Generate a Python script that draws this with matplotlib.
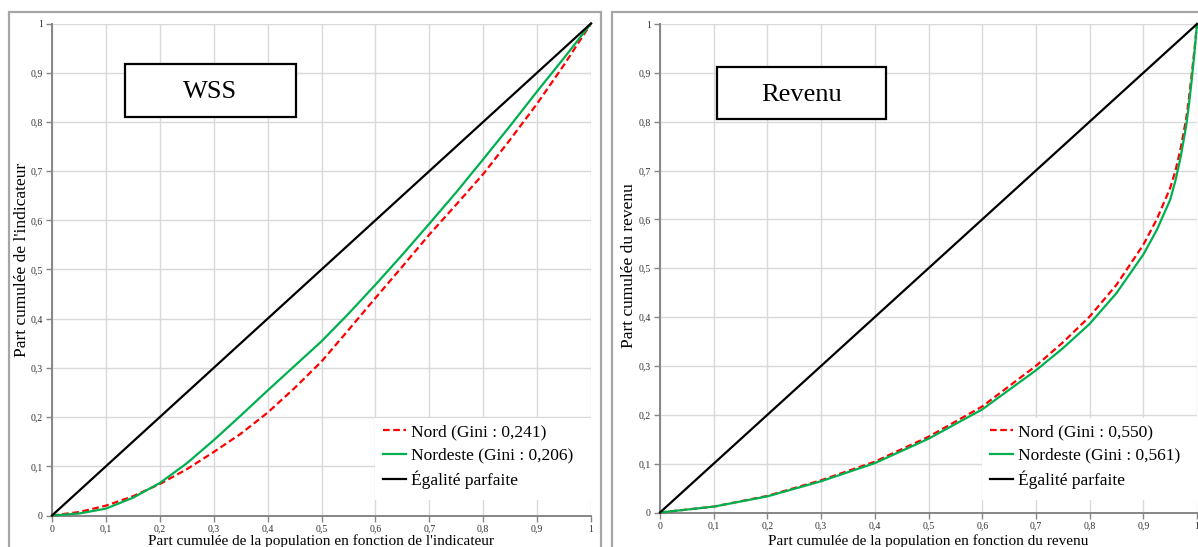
import matplotlib
matplotlib.use("Agg")
import matplotlib.pyplot as plt
from matplotlib.patches import Rectangle
from matplotlib.ticker import FuncFormatter, MultipleLocator

plt.rcParams['font.family'] = ['Liberation Serif', 'DejaVu Serif']

# ---------------- data ----------------
wss_x = [0, 0.05, 0.1, 0.15, 0.2, 0.25, 0.3, 0.35, 0.4, 0.45, 0.5, 0.55, 0.6, 0.65,
         0.7, 0.75, 0.8, 0.85, 0.9, 0.95, 1.0]
wss_nord = [0, 0.007, 0.020, 0.039, 0.064, 0.094, 0.129, 0.166, 0.209, 0.259, 0.313, 0.377,
            0.442, 0.506, 0.571, 0.632, 0.694, 0.764, 0.837, 0.916, 1.0]
wss_nordeste = [0, 0.004, 0.014, 0.036, 0.066, 0.106, 0.153, 0.203, 0.254, 0.304, 0.354, 0.410,
                0.469, 0.530, 0.593, 0.657, 0.724, 0.792, 0.862, 0.930, 1.0]

rev_x = [0, 0.1, 0.2, 0.3, 0.4, 0.5, 0.6, 0.7, 0.75, 0.8, 0.85, 0.9, 0.925, 0.95, 0.96,
         0.97, 0.98, 0.985, 0.99, 0.995, 1.0]
rev_nord = [0, 0.012, 0.034, 0.066, 0.104, 0.155, 0.217, 0.300, 0.348, 0.401, 0.466, 0.548,
            0.600, 0.664, 0.700, 0.748, 0.807, 0.848, 0.895, 0.945, 1.0]
rev_nordeste = [0, 0.012, 0.033, 0.064, 0.101, 0.151, 0.211, 0.291, 0.336, 0.386, 0.449, 0.528,
                0.578, 0.640, 0.680, 0.730, 0.793, 0.835, 0.884, 0.938, 1.0]

equal_x = [0, 1]
equal_y = [0, 1]

labels_wss = ["Nord (Gini : 0,241)", "Nordeste (Gini : 0,206)", "Égalité parfaite"]
labels_rev = ["Nord (Gini : 0,550)", "Nordeste (Gini : 0,561)", "Égalité parfaite"]

titles = ["WSS", "Revenu"]
ylabels = ["Part cumulée de l'indicateur", "Part cumulée du revenu"]
xlabels = ["Part cumulée de la population en fonction de l'indicateur",
           "Part cumulée de la population en fonction du revenu"]

# ---------------- figure ----------------
W, H = 1198, 547
fig = plt.figure(figsize=(W / 100, H / 100), dpi=100)
fig.patch.set_facecolor('white')


def fx(px):
    return px / W


def fy(py):
    return 1 - py / H


# chart borders (Excel chart areas)
for (x0, y0, x1, y1) in [(9, 12, 601, 560), (612, 12, 1210, 560)]:
    fig.patches.append(Rectangle((fx(x0), fy(y1)), fx(x1) - fx(x0), fy(y0) - fy(y1),
                                 transform=fig.transFigure, fill=False,
                                 edgecolor='#a6a6a6', linewidth=1.6, zorder=0))

RED = '#ff0000'
GREEN = '#00b050'
GRID = '#d9d9d9'
SPINE = '#868686'

fmt = FuncFormatter(lambda v, p: ('%g' % round(v, 1)).replace('.', ','))

panels = [
    dict(box=(52, 23.5, 591, 515.5), x=wss_x, nord=wss_nord, nordeste=wss_nordeste,
         labels=labels_wss, title=titles[0], tbox=(125, 64, 296, 117),
         ylabel=ylabels[0], ylab_pos=(22, 260), xlabel=xlabels[0], xlab_pos=(321.5, 541),
         leg=(383, 424), legbg=(375, 418, 596, 500)),
    dict(box=(660, 24, 1197, 512.5), x=rev_x, nord=rev_nord, nordeste=rev_nordeste,
         labels=labels_rev, title=titles[1], tbox=(717, 67, 886, 119),
         ylabel=ylabels[1], ylab_pos=(629, 266), xlabel=xlabels[1], xlab_pos=(928, 541),
         leg=(990, 424), legbg=(982, 418, 1198, 500)),
]

for p in panels:
    x0, y0, x1, y1 = p['box']
    ax = fig.add_axes([fx(x0), fy(y1), fx(x1) - fx(x0), fy(y0) - fy(y1)])
    ax.set_xlim(0, 1)
    ax.set_ylim(0, 1)
    ax.xaxis.set_major_locator(MultipleLocator(0.1))
    ax.yaxis.set_major_locator(MultipleLocator(0.1))
    ax.xaxis.set_major_formatter(fmt)
    ax.yaxis.set_major_formatter(fmt)
    ax.grid(True, color=GRID, linewidth=1.0)
    ax.set_axisbelow(True)
    for s in ['top', 'right']:
        ax.spines[s].set_visible(False)
    for s in ['left', 'bottom']:
        ax.spines[s].set_color(SPINE)
        ax.spines[s].set_linewidth(1.4)
    ax.tick_params(axis='both', direction='out', length=4, width=1.0, color=SPINE,
                   labelsize=7, labelcolor='#303030', pad=2.5)

    l1, = ax.plot(p['x'], p['nord'], color=RED, linewidth=1.6, linestyle=(0, (3, 1.6)),
                  clip_on=False, zorder=3)
    l2, = ax.plot(p['x'], p['nordeste'], color=GREEN, linewidth=1.6, clip_on=False, zorder=3)
    l3, = ax.plot(equal_x, equal_y, color='black', linewidth=1.6, clip_on=False, zorder=3)

    # legend background (white area)
    bx0, by0, bx1, by1 = p['legbg']
    ax.add_patch(Rectangle((fx(bx0), fy(by1)), fx(bx1) - fx(bx0), fy(by0) - fy(by1),
                           transform=fig.transFigure, facecolor='white',
                           edgecolor='none', zorder=2.5, clip_on=False))
    lx, ly = p['leg']
    leg = ax.legend([l1, l2, l3], p['labels'], loc='upper left',
                    bbox_to_anchor=(fx(lx), fy(ly)), bbox_transform=fig.transFigure,
                    frameon=False, fontsize=12.5, handlelength=1.35, handletextpad=0.25,
                    labelspacing=0.42, borderpad=0, borderaxespad=0)
    leg.set_zorder(5)

    # title box
    tx0, ty0, tx1, ty1 = p['tbox']
    fig.patches.append(Rectangle((fx(tx0), fy(ty1)), fx(tx1) - fx(tx0), fy(ty0) - fy(ty1),
                                 transform=fig.transFigure, facecolor='white',
                                 edgecolor='black', linewidth=1.6, zorder=4))
    fig.text(fx((tx0 + tx1) / 2), fy((ty0 + ty1) / 2 + 1.5), p['title'], ha='center',
             va='center', fontsize=19, zorder=6)

    fig.text(fx(p['ylab_pos'][0]), fy(p['ylab_pos'][1]), p['ylabel'], rotation=90,
             ha='center', va='center', fontsize=12.5)
    fig.text(fx(p['xlab_pos'][0]), fy(p['xlab_pos'][1]), p['xlabel'],
             ha='center', va='center', fontsize=11)

fig.savefig('out.png', dpi=100)
